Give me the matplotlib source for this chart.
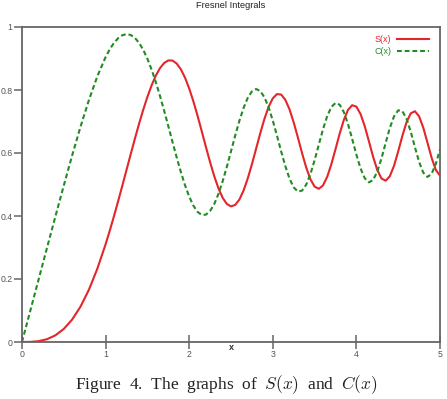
import matplotlib
matplotlib.use("Agg")
import matplotlib.pyplot as plt

# values
x_vals = [0.0, 0.1, 0.2, 0.3, 0.4, 0.5, 0.6, 0.7, 0.8, 0.9,
          1.0, 1.05, 1.1, 1.15, 1.2, 1.25, 1.3, 1.35, 1.4, 1.45,
          1.5, 1.55, 1.6, 1.65, 1.7, 1.75, 1.8, 1.85, 1.9, 1.95,
          2.0, 2.05, 2.1, 2.15, 2.2, 2.25, 2.3, 2.35, 2.4, 2.45,
          2.5, 2.55, 2.6, 2.65, 2.7, 2.75, 2.8, 2.85, 2.9, 2.95,
          3.0, 3.05, 3.1, 3.15, 3.2, 3.25, 3.3, 3.35, 3.4, 3.45,
          3.5, 3.55, 3.6, 3.65, 3.7, 3.75, 3.8, 3.85, 3.9, 3.95,
          4.0, 4.05, 4.1, 4.15, 4.2, 4.25, 4.3, 4.35, 4.4, 4.45,
          4.5, 4.55, 4.6, 4.65, 4.7, 4.75, 4.8, 4.85, 4.9, 4.95, 5.0]

s_vals = [0.0, 0.0003, 0.0027, 0.0090, 0.0213, 0.0415, 0.0713, 0.1124, 0.1657, 0.2318,
          0.3103, 0.3536, 0.3994, 0.4470, 0.4961, 0.5460, 0.5959, 0.6450, 0.6924, 0.7372,
          0.7782, 0.8146, 0.8453, 0.8692, 0.8857, 0.8939, 0.8935, 0.8841, 0.8658, 0.8391,
          0.8048, 0.7639, 0.7181, 0.6691, 0.6192, 0.5708, 0.5261, 0.4877, 0.4579, 0.4383,
          0.4305, 0.4351, 0.4521, 0.4806, 0.5188, 0.5641, 0.6134, 0.6628, 0.7085, 0.7465,
          0.7736, 0.7870, 0.7855, 0.7688, 0.7385, 0.6972, 0.6493, 0.5996, 0.5536, 0.5167,
          0.4933, 0.4863, 0.4969, 0.5239, 0.5641, 0.6121, 0.6615, 0.7052, 0.7370, 0.7517,
          0.7471, 0.7236, 0.6848, 0.6369, 0.5878, 0.5461, 0.5191, 0.5120, 0.5263, 0.5594,
          0.6052, 0.6547, 0.6979, 0.7259, 0.7326, 0.7163, 0.6805, 0.6329, 0.5844, 0.5464,
          0.5279]

c_vals = [0.0, 0.1000, 0.2000, 0.2998, 0.3990, 0.4969, 0.5923, 0.6834, 0.7678, 0.8427,
          0.9045, 0.9294, 0.9495, 0.9645, 0.9739, 0.9774, 0.9747, 0.9655, 0.9498, 0.9276,
          0.8992, 0.8650, 0.8255, 0.7817, 0.7346, 0.6853, 0.6354, 0.5863, 0.5399, 0.4977,
          0.4615, 0.4328, 0.4131, 0.4033, 0.4043, 0.4160, 0.4383, 0.4702, 0.5102, 0.5560,
          0.6053, 0.6550, 0.7019, 0.7428, 0.7748, 0.7955, 0.8031, 0.7968, 0.7769, 0.7447,
          0.7029, 0.6549, 0.6051, 0.5582, 0.5187, 0.4909, 0.4776, 0.4806, 0.4997, 0.5331,
          0.5770, 0.6263, 0.6749, 0.7166, 0.7459, 0.7588, 0.7532, 0.7296, 0.6913, 0.6439,
          0.5945, 0.5507, 0.5198, 0.5069, 0.5144, 0.5412, 0.5829, 0.6320, 0.6795, 0.7164,
          0.7355, 0.7328, 0.7085, 0.6676, 0.6186, 0.5718, 0.5376, 0.5239, 0.5339, 0.5655,
          0.6115]

x_ticks = [0, 1, 2, 3, 4, 5]
y_ticks = [0, 0.2, 0.4, 0.6, 0.8, 1]
y_tick_labels = ["0", "0.2", "0.4", "0.6", "0.8", "1"]

plt.rcParams['font.family'] = ['Liberation Sans', 'DejaVu Sans']
plt.rcParams['mathtext.fontset'] = 'cm'

fig = plt.figure(figsize=(4.47, 3.99), dpi=100)
ax = fig.add_axes([22 / 447, 57 / 399, 418 / 447, 315 / 399])

red = '#e3262b'
green = '#238b23'
ax.plot(x_vals, s_vals, color=red, lw=1.5, label='S(x)')
ax.plot(x_vals, c_vals, color=green, lw=1.5, dashes=(2.3, 1.4), label='C(x)')

ax.set_xlim(0, 5)
ax.set_ylim(0, 1)
ax.set_xticks(x_ticks)
ax.set_xticklabels([str(t) for t in x_ticks])
ax.set_yticks(y_ticks)
ax.set_yticklabels(y_tick_labels)

for sp in ax.spines.values():
    sp.set_color('#666666')
    sp.set_linewidth(1.3)
ax.tick_params(axis='y', direction='out', length=6, width=1.1, color='#666666',
               pad=0.8, labelsize=6.3, labelcolor='#555555')
ax.tick_params(axis='x', direction='inout', length=9.5, width=1.1, color='#666666',
               pad=1.2, labelsize=6.3, labelcolor='#555555')

ax.text(0.5, -0.019, 'x', transform=ax.transAxes, ha='center', va='center',
        fontsize=6.5, fontweight='bold', color='#333333')

leg = ax.legend(loc='upper right', bbox_to_anchor=(0.9737, 0.9746),
                frameon=False, markerfirst=False, fontsize=6.5,
                labelcolor='linecolor', handlelength=3.6, handletextpad=0.6,
                labelspacing=0.3, borderpad=0, borderaxespad=0)

fig.text(231 / 447, 1 - 6 / 399, 'Fresnel Integrals', ha='center', va='center',
         fontsize=6.7, color='#222222')

fig.text(226 / 447, 1 - 385 / 399,
         'Figure  4.  The  graphs  of  $S(x)$  and  $C(x)$',
         ha='center', va='center', fontsize=12.5, color='#222222',
         family=['Liberation Serif', 'DejaVu Serif'])

fig.savefig('out.png', dpi=100)
